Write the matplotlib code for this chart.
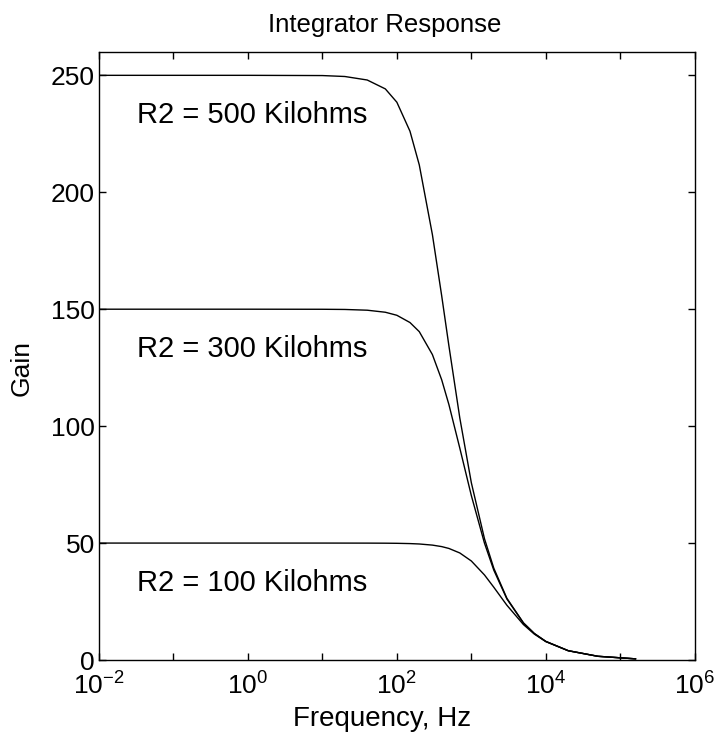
import matplotlib
matplotlib.use("Agg")
import matplotlib.pyplot as plt
from matplotlib.ticker import FixedLocator, FixedFormatter

plt.rcParams['font.family'] = ['Liberation Sans', 'DejaVu Sans']
plt.rcParams['mathtext.fontset'] = 'custom'
plt.rcParams['mathtext.rm'] = 'Liberation Sans'
plt.rcParams['mathtext.it'] = 'Liberation Sans'
plt.rcParams['mathtext.default'] = 'regular'

# Frequency samples (Hz)
freq = [0.01, 1, 10, 20, 40, 70, 100, 150, 200, 300, 400, 500, 700, 1000,
        1500, 2000, 3000, 5000, 7000, 10000, 20000, 50000, 160000]
# Gain for each R2
gain_500k = [250, 250, 249.9, 249.5, 248.0, 244.2, 238.5, 226.1, 211.7, 181.9,
             155.7, 134.3, 103.5, 75.8, 51.9, 39.3, 26.4, 15.9, 11.36, 7.95,
             3.98, 1.59, 0.497]
gain_300k = [150, 150, 149.97, 149.89, 149.57, 148.7, 147.4, 144.3, 140.4, 130.6,
             119.8, 109.2, 90.6, 70.3, 50.0, 38.46, 26.12, 15.83, 11.34, 7.95,
             3.98, 1.59, 0.497]
gain_100k = [50, 50, 50, 49.99, 49.98, 49.95, 49.90, 49.78, 49.61, 49.13,
             48.49, 47.70, 45.77, 42.34, 36.38, 31.14, 23.43, 15.17, 11.09, 7.86,
             3.97, 1.59, 0.497]
labels = ["R2 = 500 Kilohms", "R2 = 300 Kilohms", "R2 = 100 Kilohms"]
label_y = [233, 133, 33]
x_ticks = [1e-2, 1e-1, 1e0, 1e1, 1e2, 1e3, 1e4, 1e5, 1e6]
x_tick_labels = ["$10^{-2}$", "", "$10^{0}$", "", "$10^{2}$", "", "$10^{4}$", "", "$10^{6}$"]
y_ticks = [0, 50, 100, 150, 200, 250]

fig = plt.figure(figsize=(7.17, 7.42), dpi=100)
ax = fig.add_axes([0.138, 0.1105, 0.831, 0.8195])

for g in (gain_500k, gain_300k, gain_100k):
    ax.plot(freq, g, color='black', linewidth=1.0)

ax.set_xscale('log')
ax.set_xlim(1e-2, 1e6)
ax.set_ylim(0, 260)
ax.xaxis.set_major_locator(FixedLocator(x_ticks))
ax.xaxis.set_major_formatter(FixedFormatter(x_tick_labels))
ax.xaxis.set_minor_locator(FixedLocator([]))
ax.set_yticks(y_ticks)
ax.tick_params(direction='in', length=5, width=1, top=True, right=True,
               labelsize=19, colors='black')
ax.tick_params(axis='x', pad=9)
ax.tick_params(axis='y', pad=3)
for s in ax.spines.values():
    s.set_linewidth(1.0)

for t, y in zip(labels, label_y):
    ax.text(0.032, y, t, fontsize=21, va='center', ha='left')

ax.set_title("Integrator Response", fontsize=18.5, pad=14, x=0.48)
ax.set_xlabel("Frequency, Hz", fontsize=20, labelpad=0)
ax.xaxis.set_label_coords(0.475, -0.075)
ax.set_ylabel("Gain", fontsize=19, labelpad=8)
ax.yaxis.set_label_coords(-0.11, 0.48)

fig.savefig("out.png", dpi=100)
